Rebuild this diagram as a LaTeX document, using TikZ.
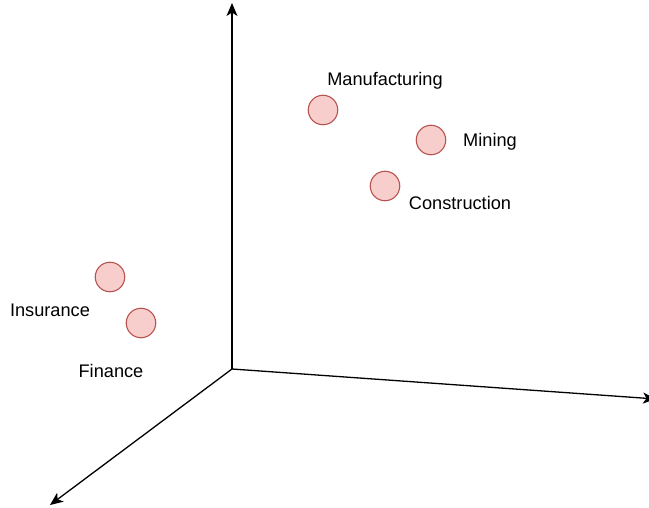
\documentclass[tikz,border=0pt]{standalone}
\usepackage{fontspec}
\setmainfont{Liberation Sans}
\usetikzlibrary{arrows.meta}

\definecolor{dotfill}{HTML}{F8CECC}
\definecolor{dotline}{HTML}{B85450}

\begin{document}
\begin{tikzpicture}[x=1pt, y=-1pt,
        axis/.style={line width=1.3pt, -{Stealth[length=13pt, width=11pt, inset=3.5pt]}},
        sector/.style={draw=dotline, fill=dotfill, circle, line width=1.1pt, minimum size=29.5pt, inner sep=0pt},
        tag/.style={font=\fontsize{18.2}{21}\selectfont, inner sep=0pt}]
            \useasboundingbox (0, 0) rectangle (649, 508);

            \coordinate (o) at (232, 369);
            \coordinate (ytip) at (232, 3);
            \coordinate (xtip) at (656, 399);
            \coordinate (ztip) at (50, 505);

            \draw[axis] (o) -- (ytip);
            \draw[axis] (o) -- (xtip);
            \draw[axis] (o) -- (ztip);

            \node[sector] (man) at (323, 110) {};
            \node[sector] (min) at (431, 140) {};
            \node[sector] (con) at (385, 186) {};
            \node[sector] (ins) at (110, 277) {};
            \node[sector] (fin) at (141, 323) {};

            \node[tag] (tman) at (385, 81) {Manufacturing};
            \node[tag] (tmin) at (490, 142) {Mining};
            \node[tag] (tcon) at (460, 203) {Construction};
            \node[tag] (tins) at (50, 310) {Insurance};
            \node[tag] (tfin) at (111, 371) {Finance};
    	\end{tikzpicture}
\end{document}
